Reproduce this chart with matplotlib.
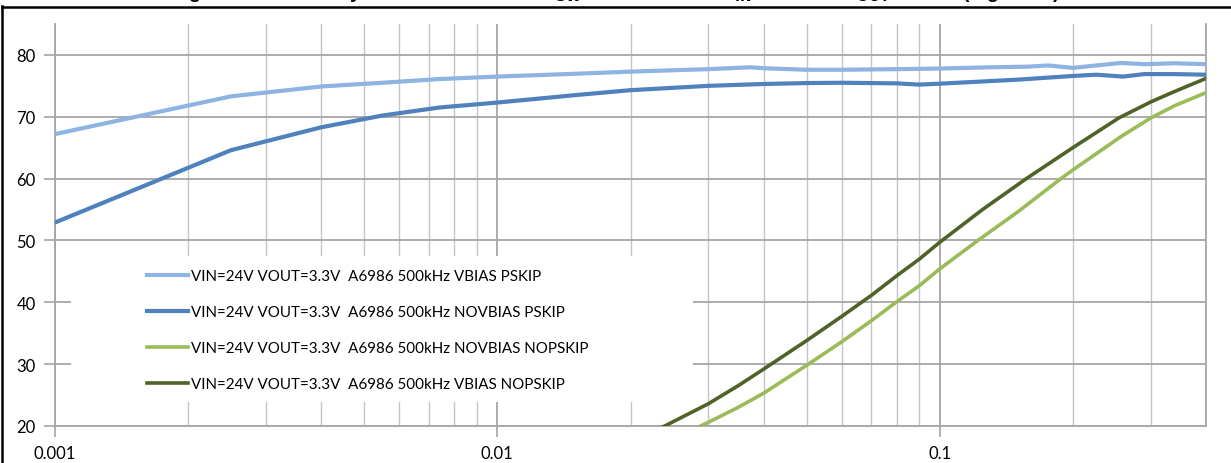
import numpy as np
import matplotlib
matplotlib.use('Agg')
import matplotlib.pyplot as plt
from matplotlib.patches import Rectangle
from matplotlib.lines import Line2D
from matplotlib.ticker import LogLocator, NullFormatter, FixedLocator, FixedFormatter

plt.rcParams['font.family'] = ['Lato', 'DejaVu Sans']

# load current (A) and efficiency (%)
load_vb_ps = [0.001, 0.0025, 0.004, 0.0055, 0.0074, 0.01, 0.015, 0.02, 0.03, 0.0373,
              0.04, 0.05, 0.06, 0.08, 0.1, 0.13, 0.158, 0.176, 0.2, 0.226, 0.257,
              0.29, 0.34, 0.4]
eff_vb_ps = [67.2, 73.3, 74.9, 75.5, 76.1, 76.5, 76.95, 77.3, 77.7, 78.0,
             77.85, 77.6, 77.6, 77.7, 77.8, 78.0, 78.1, 78.3, 77.9, 78.3, 78.7,
             78.5, 78.65, 78.5]

load_nvb_ps = [0.001, 0.0025, 0.004, 0.0055, 0.0074, 0.01, 0.015, 0.02, 0.03, 0.04,
               0.05, 0.06, 0.08, 0.09, 0.1, 0.15, 0.2, 0.226, 0.26, 0.29, 0.34, 0.4]
eff_nvb_ps = [52.9, 64.6, 68.3, 70.2, 71.5, 72.3, 73.5, 74.3, 75.0, 75.3,
              75.45, 75.5, 75.4, 75.2, 75.35, 76.0, 76.6, 76.8, 76.5, 76.9, 76.9, 76.8]

load_nvb_nps = [0.025, 0.0288, 0.03, 0.035, 0.04, 0.05, 0.06, 0.07, 0.08, 0.09, 0.1,
                0.122, 0.15, 0.188, 0.2, 0.257, 0.3, 0.34, 0.4]
eff_nvb_nps = [17.7, 20.0, 20.6, 23.0, 25.3, 29.8, 33.6, 37.0, 40.1, 42.7, 45.4,
               50.0, 54.6, 60.0, 61.4, 66.8, 69.8, 71.8, 73.9]

load_vb_nps = [0.02, 0.0239, 0.03, 0.035, 0.04, 0.05, 0.06, 0.07, 0.08, 0.09, 0.1,
               0.125, 0.157, 0.2, 0.254, 0.3, 0.34, 0.4]
eff_vb_nps = [17.6, 20.0, 23.6, 26.5, 29.2, 33.8, 37.7, 41.1, 44.3, 47.0, 49.7,
              55.0, 60.0, 65.0, 69.8, 72.4, 74.1, 76.2]

labels = ['VIN=24V VOUT=3.3V  A6986 500kHz VBIAS PSKIP',
          'VIN=24V VOUT=3.3V  A6986 500kHz NOVBIAS PSKIP',
          'VIN=24V VOUT=3.3V  A6986 500kHz NOVBIAS NOPSKIP',
          'VIN=24V VOUT=3.3V  A6986 500kHz VBIAS NOPSKIP']
x_ticks = [0.001, 0.01, 0.1]
x_ticklabels = ['0.001', '0.01', '0.1']
y_ticks = [20, 30, 40, 50, 60, 70, 80]

W, H = 1231, 464
fig = plt.figure(figsize=(W / 100, H / 100), dpi=100)
ax = fig.add_axes([55 / W, (H - 427) / H, (1206 - 55) / W, (427 - 25) / H])

ax.plot(load_vb_ps, eff_vb_ps, color='#8DB4E2', lw=3.0, label=labels[0], zorder=3)
ax.plot(load_nvb_ps, eff_nvb_ps, color='#4F81BD', lw=3.0, label=labels[1], zorder=3)
ax.plot(load_nvb_nps, eff_nvb_nps, color='#9BBB59', lw=2.6, label=labels[2], zorder=3)
ax.plot(load_vb_nps, eff_vb_nps, color='#4F6228', lw=2.6, label=labels[3], zorder=3)

ax.set_xscale('log')
ax.set_xlim(0.001, 0.4)
ax.set_ylim(20, 85)
ax.xaxis.set_major_locator(FixedLocator(x_ticks))
ax.xaxis.set_major_formatter(FixedFormatter(x_ticklabels))
ax.xaxis.set_minor_locator(LogLocator(base=10, subs=np.arange(2, 10)))
ax.xaxis.set_minor_formatter(NullFormatter())
ax.set_yticks(y_ticks)

ax.set_axisbelow(True)
ax.grid(True, which='major', color='#A6A6A6', lw=1.3)
ax.grid(True, which='minor', axis='x', color='#C4C4C4', lw=1.0)
ax.tick_params(which='major', direction='out', length=8, width=1.2, color='#A6A6A6',
               labelsize=12, labelcolor='black', pad=6)
ax.tick_params(which='minor', length=0)
ax.spines['top'].set_visible(False)
for s in ['left', 'bottom', 'right']:
    ax.spines[s].set_color('#A6A6A6')
    ax.spines[s].set_linewidth(1.3)

# white legend box hiding the grid
ax.add_patch(Rectangle((71 / W, (H - 403) / H), (693 - 71) / W, (403 - 257) / H,
                       transform=fig.transFigure, facecolor='white', edgecolor='none',
                       zorder=1))
ax.legend(loc='upper left', bbox_to_anchor=(147 / W, (H - 270) / H),
          bbox_transform=fig.transFigure, frameon=False, borderpad=0,
          borderaxespad=0, handlelength=2.7, handletextpad=0.2,
          labelspacing=1.45, fontsize=10.9)

# outer chart frame and the clipped title above it
fig.add_artist(Line2D([2 / W, 2 / W], [0, (H - 7) / H], color='black', lw=1.8))
fig.add_artist(Line2D([2 / W, 1], [(H - 8) / H, (H - 8) / H], color='black', lw=1.8))
fig.text(0.5, (H + 2) / H,
         r'Figure 13. Efficiency vs. Load Current at f$_{\mathbf{SW}}$ = 500 kHz '
         r'and V$_{\mathbf{IN}}$ = 24 V to V$_{\mathbf{OUT}}$ = 3.3 V (log scale)',
         ha='center', va='baseline', fontsize=14, fontweight='bold',
         family='Liberation Sans')

fig.savefig('out.png', dpi=100)
